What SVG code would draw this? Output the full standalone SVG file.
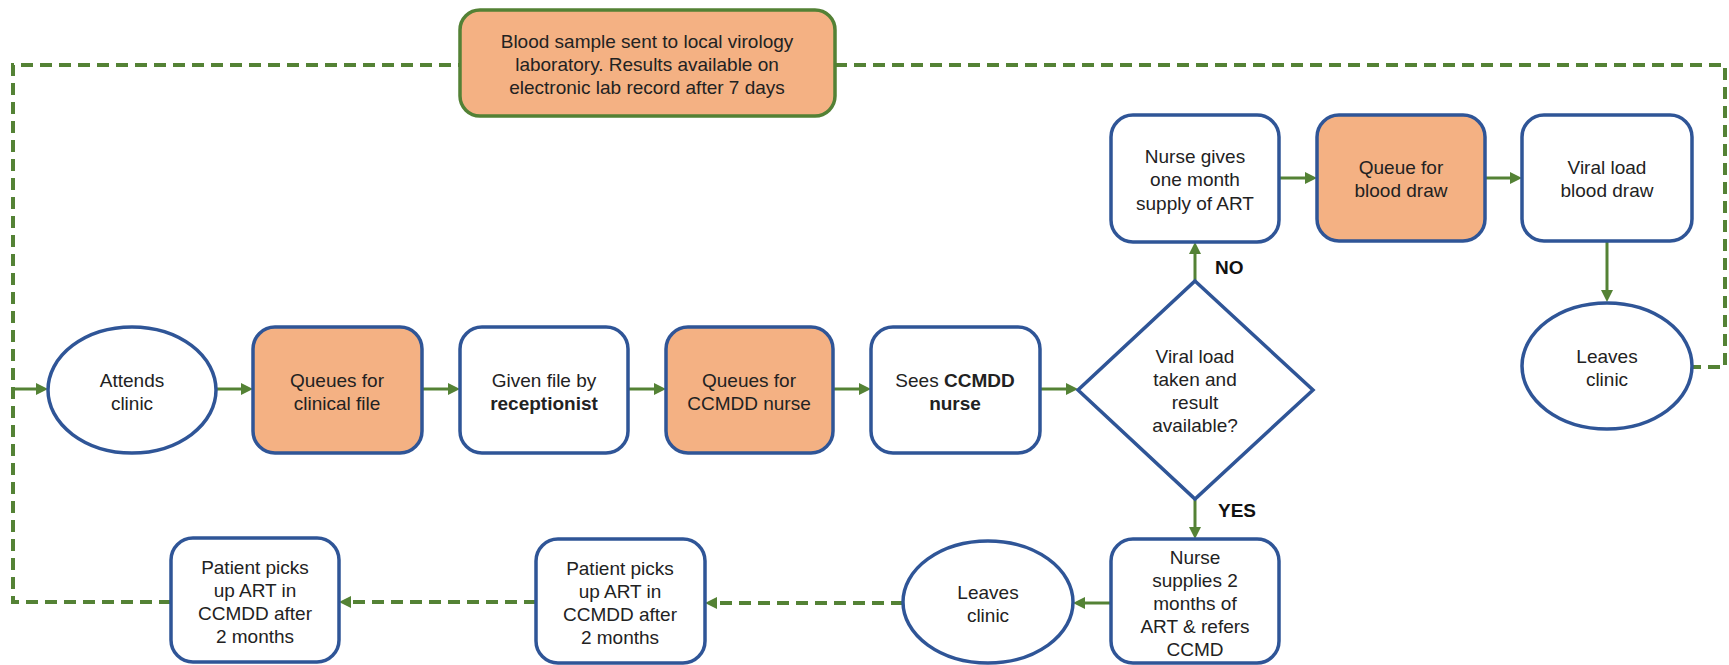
<svg xmlns="http://www.w3.org/2000/svg" width="1729" height="665" viewBox="0 0 1729 665">
<style>
  .box { fill: #ffffff; stroke: #2F5597; stroke-width: 3.5; }
  .q { fill: #F4B183; }
  .lab { fill: #F4B183; stroke: #538135; stroke-width: 3.5; }
  text { font-family: "Liberation Sans", Arial, sans-serif; font-size: 19px; fill: #222222; text-anchor: middle; }
  .b { font-weight: bold; }
  .lbl { font-weight: bold; text-anchor: start; fill: #111111; }
  .c { stroke: #548235; stroke-width: 3; fill: none; }
  .d { stroke: #548235; stroke-width: 4; fill: none; stroke-dasharray: 12 7; }
</style>
<defs>
  <marker id="ah" markerUnits="userSpaceOnUse" markerWidth="13" markerHeight="12" refX="2" refY="6" orient="auto">
    <path d="M0,0 L12,6 L0,12 z" fill="#548235"/>
  </marker>
</defs>

<g id="connectors">
  <path class="d" d="M171,602 H13 V65 H460"/>
  <path class="d" d="M835,65 H1725 V367 H1692"/>
  <line class="c" x1="13" y1="389" x2="38" y2="389" marker-end="url(#ah)"/>
  <line class="c" x1="216" y1="389" x2="243" y2="389" marker-end="url(#ah)"/>
  <line class="c" x1="422" y1="389" x2="450" y2="389" marker-end="url(#ah)"/>
  <line class="c" x1="628" y1="389" x2="656" y2="389" marker-end="url(#ah)"/>
  <line class="c" x1="833" y1="389" x2="861" y2="389" marker-end="url(#ah)"/>
  <line class="c" x1="1040" y1="389" x2="1068" y2="389" marker-end="url(#ah)"/>
  <line class="c" x1="1195" y1="281" x2="1195" y2="252" marker-end="url(#ah)"/>
  <line class="c" x1="1195" y1="499" x2="1195" y2="529" marker-end="url(#ah)"/>
  <line class="c" x1="1279" y1="178" x2="1307" y2="178" marker-end="url(#ah)"/>
  <line class="c" x1="1485" y1="178" x2="1512" y2="178" marker-end="url(#ah)"/>
  <line class="c" x1="1607" y1="241" x2="1607" y2="292" marker-end="url(#ah)"/>
  <line class="c" x1="1111" y1="603" x2="1083" y2="603" marker-end="url(#ah)"/>
  <line class="d" x1="903" y1="603" x2="715" y2="603" marker-end="url(#ah)"/>
  <line class="d" x1="536" y1="602" x2="349" y2="602" marker-end="url(#ah)"/>
  <text class="lbl" x="1215" y="274">NO</text>
  <text class="lbl" x="1218" y="517">YES</text>
</g>

<g id="lab">
  <rect class="lab" x="460" y="10" width="375" height="106" rx="20"/>
  <text x="647" y="48">Blood sample sent to local virology</text>
  <text x="647" y="71">laboratory. Results available on</text>
  <text x="647" y="94">electronic lab record after 7 days</text>
</g>

<g id="attends">
  <ellipse class="box" cx="132" cy="390" rx="84" ry="63"/>
  <text x="132" y="387">Attends</text>
  <text x="132" y="410">clinic</text>
</g>

<g id="queue-file">
  <rect class="box q" x="253" y="327" width="169" height="126" rx="22"/>
  <text x="337" y="387">Queues for</text>
  <text x="337" y="410">clinical file</text>
</g>

<g id="given-file">
  <rect class="box" x="460" y="327" width="168" height="126" rx="22"/>
  <text x="544" y="387">Given file by</text>
  <text x="544" y="410" class="b">receptionist</text>
</g>

<g id="queue-nurse">
  <rect class="box q" x="666" y="327" width="167" height="126" rx="22"/>
  <text x="749" y="387">Queues for</text>
  <text x="749" y="410">CCMDD nurse</text>
</g>

<g id="sees-nurse">
  <rect class="box" x="871" y="327" width="169" height="126" rx="22"/>
  <text x="955" y="387">Sees <tspan class="b">CCMDD</tspan></text>
  <text x="955" y="410" class="b">nurse</text>
</g>

<g id="decision">
  <polygon class="box" points="1195,281 1313,390 1195,499 1078,390"/>
  <text x="1195" y="363">Viral load</text>
  <text x="1195" y="386">taken and</text>
  <text x="1195" y="409">result</text>
  <text x="1195" y="432">available?</text>
</g>

<g id="nurse-month">
  <rect class="box" x="1111" y="115" width="168" height="127" rx="22"/>
  <text x="1195" y="163">Nurse gives</text>
  <text x="1195" y="186">one month</text>
  <text x="1195" y="210">supply of ART</text>
</g>

<g id="queue-blood">
  <rect class="box q" x="1317" y="115" width="168" height="126" rx="22"/>
  <text x="1401" y="174">Queue for</text>
  <text x="1401" y="197">blood draw</text>
</g>

<g id="vl-draw">
  <rect class="box" x="1522" y="115" width="170" height="126" rx="22"/>
  <text x="1607" y="174">Viral load</text>
  <text x="1607" y="197">blood draw</text>
</g>

<g id="leaves-top">
  <ellipse class="box" cx="1607" cy="366" rx="85" ry="63"/>
  <text x="1607" y="363">Leaves</text>
  <text x="1607" y="386">clinic</text>
</g>

<g id="nurse-supplies">
  <rect class="box" x="1111" y="539" width="168" height="124" rx="22"/>
  <text x="1195" y="564">Nurse</text>
  <text x="1195" y="587">supplies 2</text>
  <text x="1195" y="610">months of</text>
  <text x="1195" y="633">ART &amp; refers</text>
  <text x="1195" y="656">CCMD</text>
</g>

<g id="leaves-bottom">
  <ellipse class="box" cx="988" cy="602" rx="85" ry="61"/>
  <text x="988" y="599">Leaves</text>
  <text x="988" y="622">clinic</text>
</g>

<g id="patient-mid">
  <rect class="box" x="536" y="539" width="169" height="124" rx="22"/>
  <text x="620" y="575">Patient picks</text>
  <text x="620" y="598">up ART in</text>
  <text x="620" y="621">CCMDD after</text>
  <text x="620" y="644">2 months</text>
</g>

<g id="patient-left">
  <rect class="box" x="171" y="538" width="168" height="124" rx="22"/>
  <text x="255" y="574">Patient picks</text>
  <text x="255" y="597">up ART in</text>
  <text x="255" y="620">CCMDD after</text>
  <text x="255" y="643">2 months</text>
</g>
</svg>
